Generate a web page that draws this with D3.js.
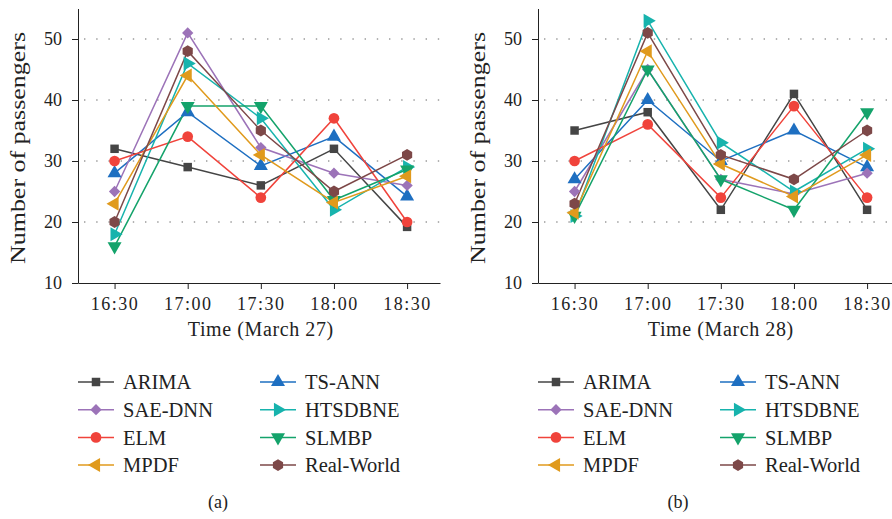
<!DOCTYPE html>
<html lang="en">
<head>
<meta charset="UTF-8">
<title>Number of passengers</title>
<script src="https://d3js.org/d3.v7.min.js"></script>
<style>
    body { margin: 0; background: #fff; font-family: "Liberation Serif", "DejaVu Serif", serif; }
    svg text { fill: #222; }
    .tick line { stroke: #222; }
    .domain { stroke: #222; }
    .grid line { stroke: #666; stroke-dasharray: 1.4, 10.8; }
</style>
</head>
<body>
<svg id="chart" width="892" height="519"></svg>
<script>
    const times = ["16:30", "17:00", "17:30", "18:00", "18:30"];
    const seriesNames = ["ARIMA", "TS-ANN", "SAE-DNN", "HTSDBNE", "ELM", "SLMBP", "MPDF", "Real-World"];
    const seriesColors = ["#454545", "#1e6fc1", "#9c73b8", "#17b3ad", "#f0433b", "#14a36b", "#e09a1d", "#7d4848"];
    const yTicks = [10, 20, 30, 40, 50];

    // March 27, same order as seriesNames
    const march27 = [
        [32, 29, 26, 32, 19.2],
        [28, 38, 29.2, 34, 24.2],
        [25, 51, 32.2, 28, 26],
        [18, 46, 37, 22, 29],
        [30, 34, 24, 37, 20],
        [16, 39, 39, 23.6, 28.6],
        [23, 44, 31, 23.2, 27.5],
        [20, 48, 35, 25, 31]
    ];
    // March 28
    const march28 = [
        [35, 38, 22, 41, 22],
        [27, 40, 30, 35, 29],
        [25, 45, 27, 24.6, 28],
        [21, 53, 33, 25, 32],
        [30, 36, 24, 39, 24],
        [21, 45, 27, 22, 38],
        [21.5, 48, 29.5, 24.2, 31],
        [23, 51, 31, 27, 35]
    ];

    const svg = d3.select("#chart");

    // marker shapes: [d3 symbol, size, rotation]
    const hexagon = {
        draw(ctx, size) {
            const r = Math.sqrt(size / 2.6);
            for (let i = 0; i < 6; i++) {
                const a = Math.PI / 6 + i * Math.PI / 3;
                if (i === 0) ctx.moveTo(r * Math.cos(a), r * Math.sin(a));
                else ctx.lineTo(r * Math.cos(a), r * Math.sin(a));
            }
            ctx.closePath();
        }
    };
    const markers = [
        [d3.symbolSquare, 72, 0],
        [d3.symbolTriangle, 85, 0],
        [d3.symbolSquare, 64, 45],
        [d3.symbolTriangle, 85, 90],
        [d3.symbolCircle, 90, 0],
        [d3.symbolTriangle, 85, 180],
        [d3.symbolTriangle, 85, -90],
        [hexagon, 90, 0]
    ];

    function marker(g, i, x, y) {
        const m = markers[i];
        g.append("path")
            .attr("d", d3.symbol().type(m[0]).size(m[1])())
            .attr("transform", `translate(${x},${y}) rotate(${m[2]})`)
            .attr("fill", seriesColors[i]);
    }

    function drawPanel(ox, data, xTitle, caption) {
        const left = ox + 78, right = ox + 362 + 78, top = 8.5, bottom = 283;
        const g = svg.append("g");

        const x = d3.scaleLinear().domain([-0.5, 4.45]).range([left, right]);
        const y = d3.scaleLinear().domain([10, 55]).range([bottom, top]);

        // grid
        g.append("g").attr("class", "grid")
            .selectAll("line")
            .data(yTicks.slice(1))
            .enter().append("line")
            .attr("x1", left + 6).attr("x2", right)
            .attr("y1", d => y(d)).attr("y2", d => y(d));

        const yAxis = g.append("g")
            .attr("transform", `translate(${left},0)`)
            .call(d3.axisLeft(y).tickValues(yTicks).tickSize(6).tickSizeOuter(0).tickPadding(10));
        yAxis.selectAll("text").style("font-size", "18px").style("font-family", "Liberation Serif");

        const xAxis = g.append("g")
            .attr("transform", `translate(0,${bottom})`)
            .call(d3.axisBottom(x).tickValues(d3.range(times.length)).tickFormat(i => times[i])
                .tickSize(6).tickSizeOuter(0).tickPadding(8));
        xAxis.selectAll("text").style("font-size", "18px").style("font-family", "Liberation Serif")
            .style("letter-spacing", "1.5px");

        g.append("text")
            .attr("x", (x(0) + x(4)) / 2).attr("y", 336)
            .attr("text-anchor", "middle")
            .style("font-size", "20px")
            .style("letter-spacing", "0.6px")
            .text(xTitle);

        g.append("text")
            .attr("transform", `translate(${ox + 25},148) rotate(-90)`)
            .attr("text-anchor", "middle")
            .attr("textLength", 232)
            .attr("lengthAdjust", "spacingAndGlyphs")
            .style("font-size", "20px")
            .text("Number of passengers");

        const line = d3.line().x((d, i) => x(i)).y(d => y(d));

        data.forEach((vals, s) => {
            g.append("path")
                .datum(vals)
                .attr("d", line)
                .attr("fill", "none")
                .attr("stroke", seriesColors[s])
                .attr("stroke-width", 1.5);
        });
        data.forEach((vals, s) => {
            vals.forEach((v, i) => marker(g, s, x(i), y(v)));
        });

        // legend: two columns
        const legendOrder = [0, 2, 4, 6, 1, 3, 5, 7];
        legendOrder.forEach((s, k) => {
            const col = Math.floor(k / 4), row = k % 4;
            const lx = ox + 78 + col * 182;
            const ly = 382 + row * 27.7;
            g.append("line")
                .attr("x1", lx).attr("x2", lx + 36)
                .attr("y1", ly).attr("y2", ly)
                .attr("stroke", seriesColors[s]).attr("stroke-width", 1.5);
            marker(g, s, lx + 18, ly);
            g.append("text")
                .attr("x", lx + 45).attr("y", ly)
                .attr("dy", "0.35em")
                .style("font-size", "20.5px")
                .text(seriesNames[s]);
        });

        g.append("text")
            .attr("x", ox + 218).attr("y", 502)
            .attr("dy", "0.35em")
            .attr("text-anchor", "middle")
            .style("font-size", "18px")
            .text(caption);
    }

    drawPanel(0, march27, "Time (March 27)", "(a)");
    drawPanel(460, march28, "Time (March 28)", "(b)");
</script>
</body>
</html>
